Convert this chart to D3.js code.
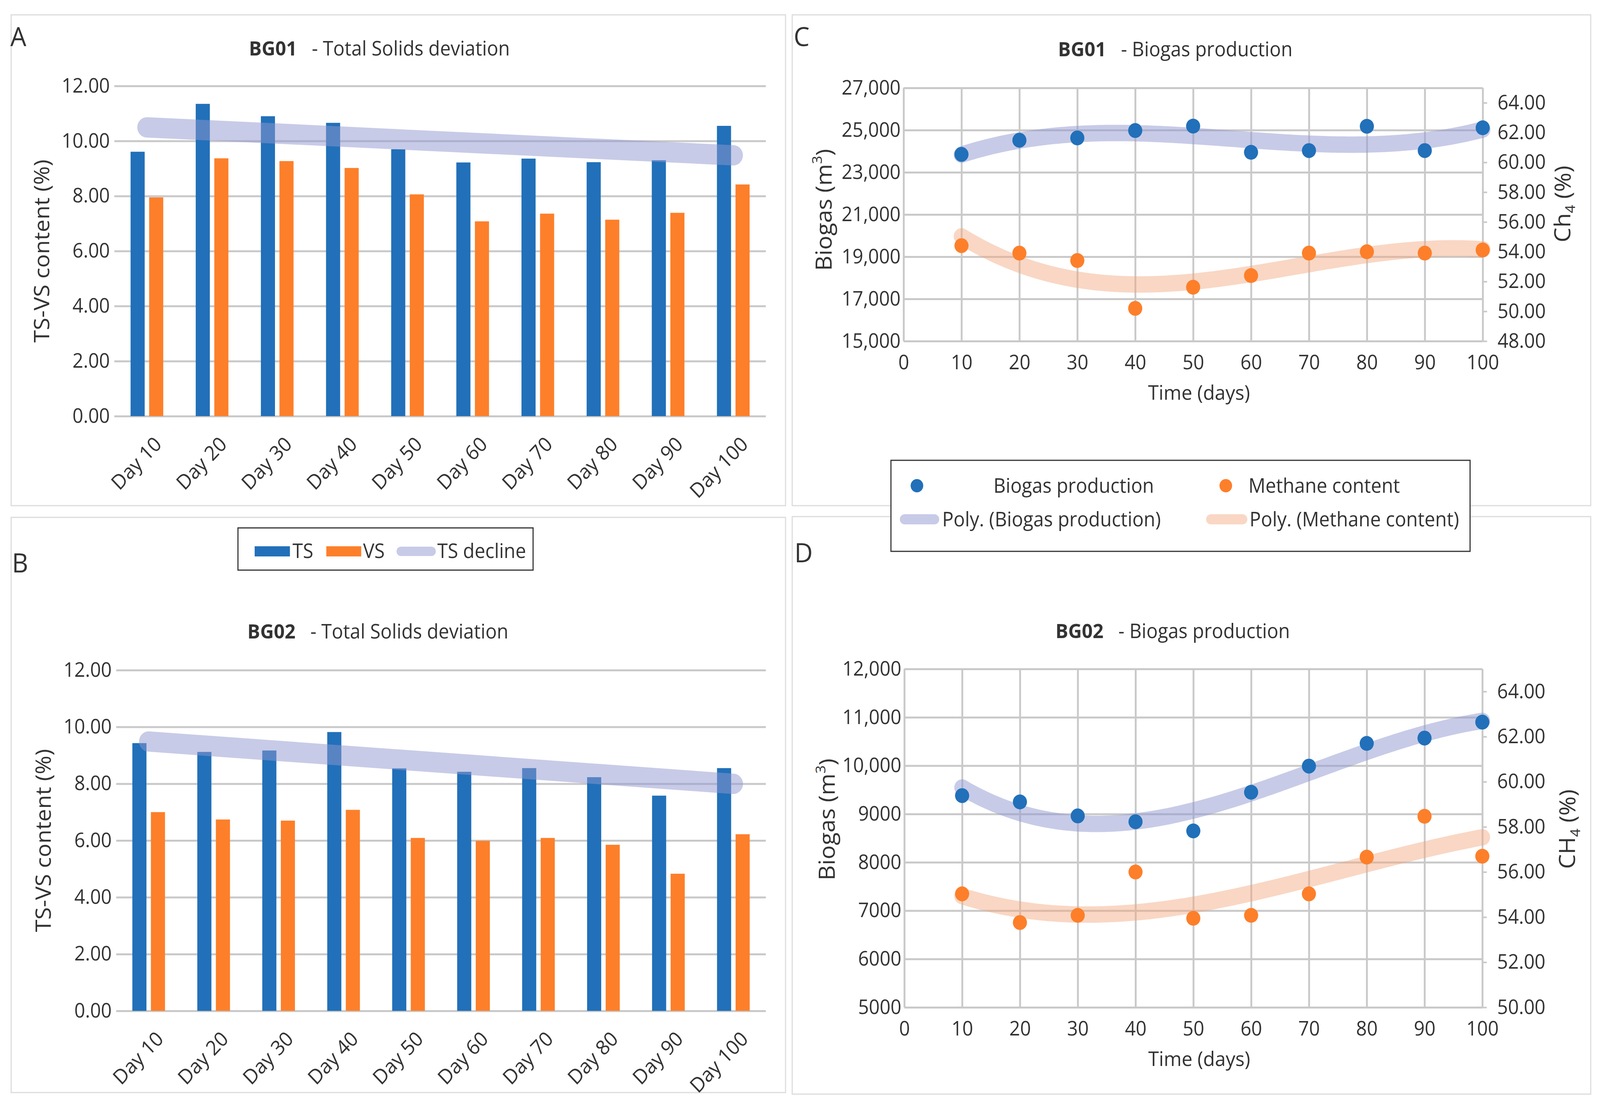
<!DOCTYPE html>
<html>
<head>
<meta charset="utf-8">
<script src="https://cdn.jsdelivr.net/npm/d3@7"></script>
<style>
  html, body { margin: 0; padding: 0; background: #fff; overflow: hidden; }
  #fig { display: block; width: 100vw; height: 100vh; }
  svg text { font-family: "Open Sans", "DejaVu Sans", sans-serif; fill: #333; }
</style>
</head>
<body>
<svg id="fig" viewBox="0 0 4310 2833" preserveAspectRatio="none"></svg>
<script>
// values
var days = ["Day 10", "Day 20", "Day 30", "Day 40", "Day 50", "Day 60", "Day 70", "Day 80", "Day 90", "Day 100"];
var tsBG01 = [9.61, 11.35, 10.90, 10.66, 9.70, 9.22, 9.36, 9.23, 9.30, 10.55];
var vsBG01 = [7.95, 9.37, 9.27, 9.02, 8.06, 7.08, 7.36, 7.14, 7.39, 8.42];
var tsBG02 = [9.43, 9.12, 9.17, 9.82, 8.54, 8.42, 8.55, 8.23, 7.58, 8.55];
var vsBG02 = [7.00, 6.74, 6.70, 7.08, 6.09, 5.99, 6.09, 5.85, 4.83, 6.22];
var pctTicks = [0, 2, 4, 6, 8, 10, 12];

var timeDays = [10, 20, 30, 40, 50, 60, 70, 80, 90, 100];
var timeTicks = [0, 10, 20, 30, 40, 50, 60, 70, 80, 90, 100];
var biogasBG01 = [23850, 24520, 24630, 24980, 25190, 23950, 24030, 25180, 24030, 25110];
var methaneBG01 = [54.41, 53.91, 53.41, 50.20, 51.62, 52.40, 53.91, 54.00, 53.91, 54.12];
var biogasBG02 = [9380, 9250, 8960, 8840, 8650, 9450, 9990, 10460, 10570, 10900];
var methaneBG02 = [55.03, 53.76, 54.08, 56.00, 53.95, 54.08, 55.03, 56.66, 58.47, 56.70];
var biogasTicks01 = [15000, 17000, 19000, 21000, 23000, 25000, 27000];
var methaneTicks01 = [48, 50, 52, 54, 56, 58, 60, 62, 64];
var biogasTicks02 = [5000, 6000, 7000, 8000, 9000, 10000, 11000, 12000];
var methaneTicks02 = [50, 52, 54, 56, 58, 60, 62, 64];

var BLUE = "#2170b9", ORANGE = "#fd7f2a";
var TREND_BLUE = "#8f97cf", TREND_ORANGE = "#f2a67c";
var GRID = "#c9c9c9";

var svg = d3.select("#fig");
svg.append("rect").attr("width", 4310).attr("height", 2833).attr("fill", "#fff");

// least squares polynomial, like the spreadsheet trendline
function polyFit(xs, ys, order) {
    var n = order + 1;
    var A = d3.range(n).map(function () { return new Array(n).fill(0); });
    var b = new Array(n).fill(0);
    xs.forEach(function (x, k) {
        var u = x / 100;
        for (var i = 0; i < n; i++) {
            b[i] += Math.pow(u, i) * ys[k];
            for (var j = 0; j < n; j++) A[i][j] += Math.pow(u, i + j);
        }
    });
    for (var i = 0; i < n; i++) {
        for (var r = i + 1; r < n; r++) {
            var f = A[r][i] / A[i][i];
            for (var c = i; c < n; c++) A[r][c] -= f * A[i][c];
            b[r] -= f * b[i];
        }
    }
    var coef = new Array(n).fill(0);
    for (var i2 = n - 1; i2 >= 0; i2--) {
        var s = b[i2];
        for (var j2 = i2 + 1; j2 < n; j2++) s -= A[i2][j2] * coef[j2];
        coef[i2] = s / A[i2][i2];
    }
    return function (x) {
        return coef.reduce(function (acc, ci, i) { return acc + ci * Math.pow(x / 100, i); }, 0);
    };
}

function styleAxis(g, size) {
    g.select(".domain").remove();
    g.selectAll(".tick line").attr("stroke", GRID).attr("stroke-width", 5);
    g.selectAll(".tick text").attr("font-size", size).attr("fill", "#333")
        .style("font-family", '"Open Sans", sans-serif');
}

function panelBox(x, y, w, h) {
    svg.append("rect").attr("x", x).attr("y", y).attr("width", w).attr("height", h)
        .attr("fill", "none").attr("stroke", "#dcdcdc").attr("stroke-width", 3);
}

function letter(t, x, y) {
    svg.append("text").attr("x", x).attr("y", y).attr("font-size", 68).attr("fill", "#222").text(t);
}

function title(name, rest, cx, y) {
    var t = svg.append("text").attr("x", cx).attr("y", y).attr("text-anchor", "middle")
        .attr("font-size", 51).attr("fill", "#333");
    t.append("tspan").attr("font-weight", "bold").text(name);
    t.append("tspan").attr("dx", 40).text("- " + rest);
}

// ---------- bar panels ----------
function barPanel(o) {
    var g = svg.append("g");
    var x = d3.scaleBand().domain(days).range([o.left, o.right]);
    var y = d3.scaleLinear().domain([0, 12]).range([o.bottom, o.top]);
    var sub = d3.scaleBand().domain(["TS", "VS"]).range([-44, 44]).paddingInner(0.24);

    var ya = g.append("g").attr("transform", "translate(" + o.left + ",0)")
        .call(d3.axisLeft(y).tickValues(pctTicks).tickFormat(d3.format(".2f"))
            .tickSize(-(o.right - o.left)).tickPadding(12));
    styleAxis(ya, 51);

    var xa = g.append("g").attr("transform", "translate(0," + o.bottom + ")")
        .call(d3.axisBottom(x).tickSize(0).tickPadding(0));
    xa.select(".domain").remove();
    xa.selectAll(".tick text").attr("font-size", 52).attr("fill", "#333")
        .attr("text-anchor", "end").attr("dy", "0.35em")
        .attr("transform", "translate(30,62) rotate(-45)");

    var series = [{ key: "TS", vals: o.ts, color: BLUE }, { key: "VS", vals: o.vs, color: ORANGE }];
    series.forEach(function (s) {
        g.selectAll(null).data(s.vals).enter().append("rect")
            .attr("x", function (d, i) { return x(days[i]) + x.bandwidth() / 2 + sub(s.key); })
            .attr("y", function (d) { return y(d); })
            .attr("width", sub.bandwidth())
            .attr("height", function (d) { return y(0) - y(d); })
            .attr("fill", s.color);
    });

    // linear trend of TS
    var idx = days.map(function (d, i) { return i + 1; });
    var fit = polyFit(idx, o.ts, 1);
    g.append("path")
        .datum([1, days.length])
        .attr("d", d3.line()
            .x(function (d) { return x(days[d - 1]) + x.bandwidth() / 2; })
            .y(function (d) { return y(fit(d)); }))
        .attr("fill", "none").attr("stroke", TREND_BLUE).attr("stroke-opacity", 0.5)
        .attr("stroke-width", 52).attr("stroke-linecap", "round");

    g.append("text").attr("transform", "translate(" + o.ylabX + "," + (o.top + o.bottom) / 2 + ") rotate(-90)")
        .attr("text-anchor", "middle").attr("dy", "0.35em").attr("font-size", 58).attr("fill", "#333")
        .text("TS-VS content (%)");
}

// ---------- scatter panels ----------
function scatterPanel(o) {
    var g = svg.append("g");
    var x = d3.scaleLinear().domain([0, 100]).range([o.left, o.right]);
    var yl = d3.scaleLinear().domain(o.leftDomain).range([o.bottom, o.top]);
    var yr = d3.scaleLinear().domain(o.rightDomain).range([o.bottom, o.top]);
    var fmtL = function (v) { return v >= 10000 ? d3.format(",")(v) : String(v); };

    var ya = g.append("g").attr("transform", "translate(" + o.left + ",0)")
        .call(d3.axisLeft(yl).tickValues(o.leftTicks).tickFormat(fmtL)
            .tickSize(-(o.right - o.left)).tickPadding(8));
    styleAxis(ya, 51);

    var xa = g.append("g").attr("transform", "translate(0," + o.bottom + ")")
        .call(d3.axisBottom(x).tickValues(timeTicks).tickFormat(d3.format("d"))
            .tickSize(-(o.bottom - o.top)).tickPadding(36));
    styleAxis(xa, 51);

    var yra = g.append("g").attr("transform", "translate(" + o.right + ",0)")
        .call(d3.axisRight(yr).tickValues(o.rightTicks).tickFormat(d3.format(".2f"))
            .tickSize(12).tickPadding(28));
    styleAxis(yra, 51);
    yra.selectAll(".tick line").attr("stroke-width", 4);

    var fitB = polyFit(timeDays, o.biogas, 3);
    var fitM = polyFit(timeDays, o.methane, 3);
    var xs = d3.range(10, 100.01, 0.5);
    g.append("path").datum(xs)
        .attr("d", d3.line().x(function (d) { return x(d); }).y(function (d) { return yl(fitB(d)); }))
        .attr("fill", "none").attr("stroke", TREND_BLUE).attr("stroke-opacity", 0.5)
        .attr("stroke-width", 42).attr("stroke-linecap", "round");
    g.append("path").datum(xs)
        .attr("d", d3.line().x(function (d) { return x(d); }).y(function (d) { return yr(fitM(d)); }))
        .attr("fill", "none").attr("stroke", TREND_ORANGE).attr("stroke-opacity", 0.45)
        .attr("stroke-width", 42).attr("stroke-linecap", "round");

    g.selectAll(null).data(o.biogas).enter().append("circle")
        .attr("cx", function (d, i) { return x(timeDays[i]); })
        .attr("cy", function (d) { return yl(d); })
        .attr("r", 19).attr("fill", BLUE);
    g.selectAll(null).data(o.methane).enter().append("circle")
        .attr("cx", function (d, i) { return x(timeDays[i]); })
        .attr("cy", function (d) { return yr(d); })
        .attr("r", 19).attr("fill", ORANGE);

    var lt = g.append("text")
        .attr("transform", "translate(" + o.ylabX + "," + o.ylabY + ") rotate(-90)")
        .attr("text-anchor", "middle").attr("dy", "0.35em").attr("font-size", 60).attr("fill", "#333");
    lt.append("tspan").text("Biogas (m");
    lt.append("tspan").attr("font-size", 37).attr("dy", "-0.7em").text("3");
    lt.append("tspan").attr("dy", "0.45em").text(")");

    var rt = g.append("text")
        .attr("transform", "translate(" + o.yrlabX + "," + o.yrlabY + ") rotate(-90)")
        .attr("text-anchor", "middle").attr("dy", "0.35em").attr("font-size", 60).attr("fill", "#333");
    rt.append("tspan").text(o.ch);
    rt.append("tspan").attr("font-size", 37).attr("dy", "0.35em").text("4");
    rt.append("tspan").attr("dy", "-0.2em").text(" (%)");

    g.append("text").attr("x", (o.left + o.right) / 2 + 16).attr("y", o.bottom + 150)
        .attr("text-anchor", "middle").attr("font-size", 52).attr("fill", "#333").text("Time (days)");
}

// panel frames
panelBox(30, 38, 2086, 1256);
panelBox(30, 1324, 2086, 1472);
panelBox(2134, 38, 2151, 1256);
panelBox(2134, 1322, 2151, 1478);

letter("A", 28, 118);
letter("B", 32, 1465);
letter("C", 2138, 118);
letter("D", 2140, 1439);

title("BG01", "Total Solids deviation", 1022, 142);
title("BG02", "Total Solids deviation", 1018, 1634);
title("BG01", "Biogas production", 3166, 144);
title("BG02", "Biogas production", 3159, 1633);

barPanel({ left: 308, right: 2063, top: 220, bottom: 1065, ts: tsBG01, vs: vsBG01, ylabX: 112 });
barPanel({ left: 313, right: 2063, top: 1715, bottom: 2587, ts: tsBG02, vs: vsBG02, ylabX: 116 });

scatterPanel({
    left: 2434, right: 3994, top: 225, bottom: 873,
    leftDomain: [15000, 27000], leftTicks: biogasTicks01,
    rightDomain: [48, 65], rightTicks: methaneTicks01,
    biogas: biogasBG01, methane: methaneBG01,
    ylabX: 2219, ylabY: 537, yrlabX: 4209, yrlabY: 522, ch: "Ch"
});
scatterPanel({
    left: 2436, right: 3993, top: 1712, bottom: 2578,
    leftDomain: [5000, 12000], leftTicks: biogasTicks02,
    rightDomain: [50, 65], rightTicks: methaneTicks02,
    biogas: biogasBG02, methane: methaneBG02,
    ylabX: 2228, ylabY: 2097, yrlabX: 4222, yrlabY: 2122, ch: "CH"
});

// legend for A/B
var lg1 = svg.append("g");
lg1.append("rect").attr("x", 641).attr("y", 1351).attr("width", 795).attr("height", 108)
    .attr("fill", "#fff").attr("stroke", "#333").attr("stroke-width", 3);
lg1.append("rect").attr("x", 686).attr("y", 1398).attr("width", 95).attr("height", 26).attr("fill", BLUE);
lg1.append("text").attr("x", 788).attr("y", 1428).attr("font-size", 51).text("TS");
lg1.append("rect").attr("x", 879).attr("y", 1398).attr("width", 94).attr("height", 26).attr("fill", ORANGE);
lg1.append("text").attr("x", 978).attr("y", 1428).attr("font-size", 51).text("VS");
lg1.append("line").attr("x1", 1080).attr("x2", 1162).attr("y1", 1411).attr("y2", 1411)
    .attr("stroke", TREND_BLUE).attr("stroke-opacity", 0.5).attr("stroke-width", 24).attr("stroke-linecap", "round");
lg1.append("text").attr("x", 1178).attr("y", 1428).attr("font-size", 51).text("TS decline");

// legend for C/D
var lg2 = svg.append("g");
lg2.append("rect").attr("x", 2400).attr("y", 1178).attr("width", 1560).attr("height", 233)
    .attr("fill", "#fff").attr("stroke", "#333").attr("stroke-width", 3);
lg2.append("circle").attr("cx", 2470).attr("cy", 1243).attr("r", 17).attr("fill", BLUE);
lg2.append("text").attr("x", 2676).attr("y", 1261).attr("font-size", 51).text("Biogas production");
lg2.append("circle").attr("cx", 3302).attr("cy", 1243).attr("r", 17).attr("fill", ORANGE);
lg2.append("text").attr("x", 3363).attr("y", 1261).attr("font-size", 51).text("Methane content");
lg2.append("line").attr("x1", 2437).attr("x2", 2517).attr("y1", 1329).attr("y2", 1329)
    .attr("stroke", TREND_BLUE).attr("stroke-opacity", 0.5).attr("stroke-width", 26).attr("stroke-linecap", "round");
lg2.append("text").attr("x", 2538).attr("y", 1347).attr("font-size", 51).text("Poly. (Biogas production)");
lg2.append("line").attr("x1", 3262).attr("x2", 3347).attr("y1", 1329).attr("y2", 1329)
    .attr("stroke", TREND_ORANGE).attr("stroke-opacity", 0.45).attr("stroke-width", 26).attr("stroke-linecap", "round");
lg2.append("text").attr("x", 3366).attr("y", 1347).attr("font-size", 51).text("Poly. (Methane content)");
</script>
</body>
</html>
